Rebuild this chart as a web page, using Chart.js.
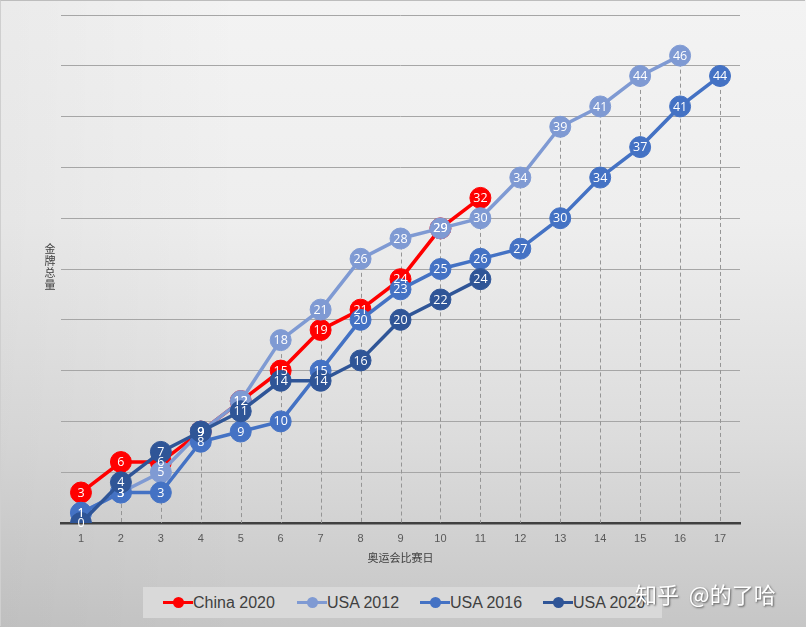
<!DOCTYPE html>
<html><head><meta charset="utf-8">
<script src="https://cdn.jsdelivr.net/npm/chart.js@4.4.1/dist/chart.umd.min.js"></script>
<style>
html,body{margin:0;padding:0;}
body{width:806px;height:627px;overflow:hidden;position:relative;
  background:
    linear-gradient(90deg, rgba(0,0,0,0.035) 0%, rgba(0,0,0,0) 30%),
    linear-gradient(180deg,#f3f3f3 0%,#eeeeee 35%,#dcdcdc 70%,#c6c6c6 100%);}
#frame{position:absolute;left:0;top:0;width:805px;height:626px;border-top:1px solid #bdbdbd;border-left:1px solid #cfcfcf;box-sizing:border-box;}
#wrap{position:absolute;left:0;top:0;width:806px;height:627px;}
#ytitle{position:absolute;left:43px;top:242px;width:14px;}
#ytitle div{font:11px "Noto Sans CJK SC",sans-serif;height:12px;line-height:12px;color:#404040;text-align:center;}
#legend{position:absolute;left:143px;top:587px;width:519px;height:31px;background:#d9d9d9;}
.li{position:absolute;top:0;height:31px;display:flex;align-items:center;font:16px "Liberation Sans",sans-serif;color:#404040;white-space:nowrap;}
.mk{position:relative;width:30px;height:31px;}
.mk .ln{position:absolute;left:0;top:14px;width:30px;height:3px;}
.mk .dt{position:absolute;left:10px;top:10px;width:11px;height:11px;border-radius:50%;}
#wm{position:absolute;left:635px;top:577px;font:22px "Noto Sans CJK SC",sans-serif;color:#fff;text-shadow:1px 1px 2px rgba(0,0,0,0.55);white-space:nowrap;}
</style></head>
<body>
<div id="frame"></div>
<div id="wrap"><canvas id="c" width="806" height="627"></canvas></div>
<div id="ytitle"></div>
<div id="legend"></div>
<div id="wm">知乎&nbsp; @的了哈</div>
<script>
const days = ['1','2','3','4','5','6','7','8','9','10','11','12','13','14','15','16','17'];
const china2020 = [3,6,6,9,12,15,19,21,24,29,32];
const usa2012 = [1,3,5,9,12,18,21,26,28,29,30,34,39,41,44,46];
const usa2016 = [1,3,3,8,9,10,15,20,23,25,26,27,30,34,37,41,44];
const usa2020 = [0,4,7,9,11,14,14,16,20,22,24];
const seriesNames = ['China 2020','USA 2012','USA 2016','USA 2020'];
const seriesColors = ['#ff0000','#7f9ad3','#4472c4','#2f5597'];
const xTitle = '奥运会比赛日';
const yTitle = '金牌总量';

const allSeries = [china2020, usa2012, usa2016, usa2020];

// vertical y title, one character per line
const yt = document.getElementById('ytitle');
Array.from(yTitle).forEach(ch => { const d = document.createElement('div'); d.textContent = ch; yt.appendChild(d); });

// HTML legend
const legend = document.getElementById('legend');
const legendX = [20, 154, 277, 400];
seriesNames.forEach((n, i) => {
  const d = document.createElement('div');
  d.className = 'li';
  d.style.left = legendX[i] + 'px';
  d.innerHTML = '<div class="mk"><div class="ln" style="background:' + seriesColors[i] + '"></div><div class="dt" style="background:' + seriesColors[i] + '"></div></div><span>' + n + '</span>';
  legend.appendChild(d);
});

const dropLines = {
  id: 'dropLines',
  beforeDatasetsDraw(chart) {
    const ctx = chart.ctx, xs = chart.scales.x, ys = chart.scales.y;
    ctx.save();
    ctx.strokeStyle = '#959595';
    ctx.lineWidth = 1;
    ctx.setLineDash([4, 3]);
    days.forEach((d, i) => {
      let m = null;
      allSeries.forEach(s => { if (s[i] != null && (m === null || s[i] > m)) m = s[i]; });
      if (m === null) return;
      const x = Math.round(xs.getPixelForValue(i)) + 0.5;
      ctx.beginPath();
      ctx.moveTo(x, ys.getPixelForValue(m));
      ctx.lineTo(x, chart.chartArea.bottom);
      ctx.stroke();
    });
    ctx.restore();
  }
};

const valueLabels = {
  id: 'valueLabels',
  afterDatasetsDraw(chart) {
    const ctx = chart.ctx;
    ctx.save();
    ctx.fillStyle = '#ffffff';
    ctx.font = '12.5px "Open Sans", sans-serif';
    ctx.textAlign = 'center';
    ctx.textBaseline = 'middle';
    chart.data.datasets.forEach((ds, di) => {
      const meta = chart.getDatasetMeta(di);
      meta.data.forEach((el, j) => {
        const v = ds.data[j];
        if (v == null) return;
        ctx.fillText(String(v), el.x, el.y + 0.5);
      });
    });
    ctx.restore();
  }
};

new Chart(document.getElementById('c'), {
  type: 'line',
  data: {
    labels: days,
    datasets: allSeries.map((s, i) => ({
      label: seriesNames[i],
      data: s,
      borderColor: seriesColors[i],
      backgroundColor: seriesColors[i],
      pointBackgroundColor: seriesColors[i],
      pointBorderColor: seriesColors[i],
      pointBorderWidth: 1,
      pointRadius: 10.5,
      borderWidth: 3.5,
      tension: 0,
      fill: false,
      order: 3 - i
    }))
  },
  options: {
    responsive: false,
    animation: false,
    events: [],
    layout: { padding: { left: 61, right: 66, top: 15, bottom: 0 } },
    plugins: { legend: { display: false }, tooltip: { enabled: false } },
    scales: {
      x: {
        type: 'category',
        offset: true,
        grid: { display: false, drawTicks: false },
        border: { display: true, color: '#404040', width: 2.5 },
        ticks: { color: '#595959', font: { size: 11, family: 'Liberation Sans' }, padding: 9, maxRotation: 0, autoSkip: false },
        title: { display: true, text: xTitle, color: '#404040', font: { size: 11, family: 'Noto Sans CJK SC' }, padding: { top: 0, bottom: 63 } },
        afterFit(scale) { scale.height = 104; }
      },
      y: {
        min: 0, max: 50,
        ticks: { display: false, stepSize: 5 },
        grid: { color: '#a6a6a6', lineWidth: 1, drawTicks: false },
        border: { display: false },
        afterFit(scale) { scale.width = 0; }
      }
    }
  },
  plugins: [dropLines, valueLabels]
});
</script>
</body></html>
